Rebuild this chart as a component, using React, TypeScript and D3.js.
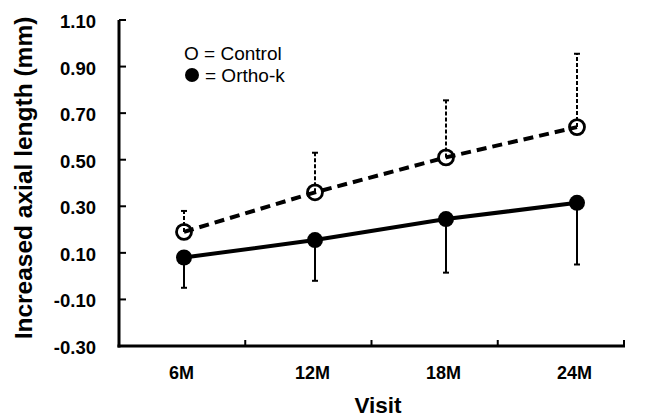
import React from "react";
import * as d3 from "d3";

const visits = ["6M", "12M", "18M", "24M"];
const controlMean = [0.19, 0.36, 0.51, 0.64];
const controlUpper = [0.28, 0.53, 0.755, 0.955];
const orthoMean = [0.08, 0.155, 0.245, 0.315];
const orthoLower = [-0.05, -0.02, 0.015, 0.05];
const yTicks = [-0.3, -0.1, 0.1, 0.3, 0.5, 0.7, 0.9, 1.1];

const W = 646;
const H = 417;
const FONT = "'Liberation Sans', Arial, sans-serif";

export default function App() {
  const y = d3.scaleLinear().domain([-0.3, 1.1]).range([346, 20]);
  const xBand = d3.scaleBand().domain(visits).range([119, 624]).paddingInner(0).paddingOuter(0);
  const x = d3.scaleLinear().domain([0, 3]).range([184, 577]);
  const idx = visits.map((_, i) => i);

  const ctrlLine = d3
    .line<number>()
    .x((i) => x(i))
    .y((i) => y(controlMean[i]));
  const orthoLine = d3
    .line<number>()
    .x((i) => x(i))
    .y((i) => y(orthoMean[i]));

  const boundaries = visits.map((v) => xBand(v) as number).concat([624]).slice(1);

  return (
    <svg
      width={W}
      height={H}
      style={{ position: "absolute", left: 0, top: 0, background: "#fff" }}
      fontFamily={FONT}
    >
      {/* axes */}
      <line x1={119} x2={119} y1={y(1.1)} y2={y(-0.3) + 1.5} stroke="#000" strokeWidth={3} />
      <line x1={117.5} x2={625} y1={y(-0.3)} y2={y(-0.3)} stroke="#000" strokeWidth={3} />
      {yTicks.map((t) => (
        <g key={t}>
          <line x1={119} x2={126} y1={y(t)} y2={y(t)} stroke="#000" strokeWidth={2} />
          <text x={96} y={y(t) + 8} textAnchor="end" fontSize={18.5} fontWeight="bold">
            {t.toFixed(2)}
          </text>
        </g>
      ))}
      {boundaries.map((b, i) => (
        <line key={i} x1={b} x2={b} y1={y(-0.3)} y2={y(-0.3) - 6} stroke="#000" strokeWidth={2} />
      ))}
      {visits.map((v, i) => (
        <text key={v} x={x(i) - 2.5} y={379} textAnchor="middle" fontSize={18} fontWeight="bold">
          {v}
        </text>
      ))}
      <text x={378} y={413} textAnchor="middle" fontSize={22.5} fontWeight="bold">
        Visit
      </text>
      <text
        transform={`translate(32,178) rotate(-90)`}
        textAnchor="middle"
        fontSize={24.5}
        fontWeight="bold"
      >
        Increased axial length (mm)
      </text>

      {/* error bars */}
      {idx.map((i) => (
        <g key={"ce" + i}>
          <line
            x1={x(i)}
            x2={x(i)}
            y1={y(controlMean[i])}
            y2={y(controlUpper[i])}
            stroke="#000"
            strokeWidth={2}
            strokeDasharray="4,2"
          />
          <line
            x1={x(i) - 3}
            x2={x(i) + 3}
            y1={y(controlUpper[i])}
            y2={y(controlUpper[i])}
            stroke="#000"
            strokeWidth={2}
          />
        </g>
      ))}
      {idx.map((i) => (
        <g key={"oe" + i}>
          <line
            x1={x(i)}
            x2={x(i)}
            y1={y(orthoMean[i])}
            y2={y(orthoLower[i])}
            stroke="#000"
            strokeWidth={2}
          />
          <line
            x1={x(i) - 3}
            x2={x(i) + 3}
            y1={y(orthoLower[i])}
            y2={y(orthoLower[i])}
            stroke="#000"
            strokeWidth={2}
          />
        </g>
      ))}

      {/* lines */}
      <path d={ctrlLine(idx) || ""} fill="none" stroke="#000" strokeWidth={4} strokeDasharray="10,6" />
      <path d={orthoLine(idx) || ""} fill="none" stroke="#000" strokeWidth={4} />

      {/* markers */}
      {idx.map((i) => (
        <circle key={"cm" + i} cx={x(i)} cy={y(controlMean[i])} r={7.5} fill="none" stroke="#000" strokeWidth={2.8} />
      ))}
      {idx.map((i) => (
        <circle key={"om" + i} cx={x(i)} cy={y(orthoMean[i])} r={8} fill="#000" />
      ))}

      {/* legend */}
      <text x={184} y={60} fontSize={19}>
        O = Control
      </text>
      <circle cx={192} cy={75} r={7} fill="#000" />
      <text x={205} y={82} fontSize={19}>
        = Ortho-k
      </text>
    </svg>
  );
}
